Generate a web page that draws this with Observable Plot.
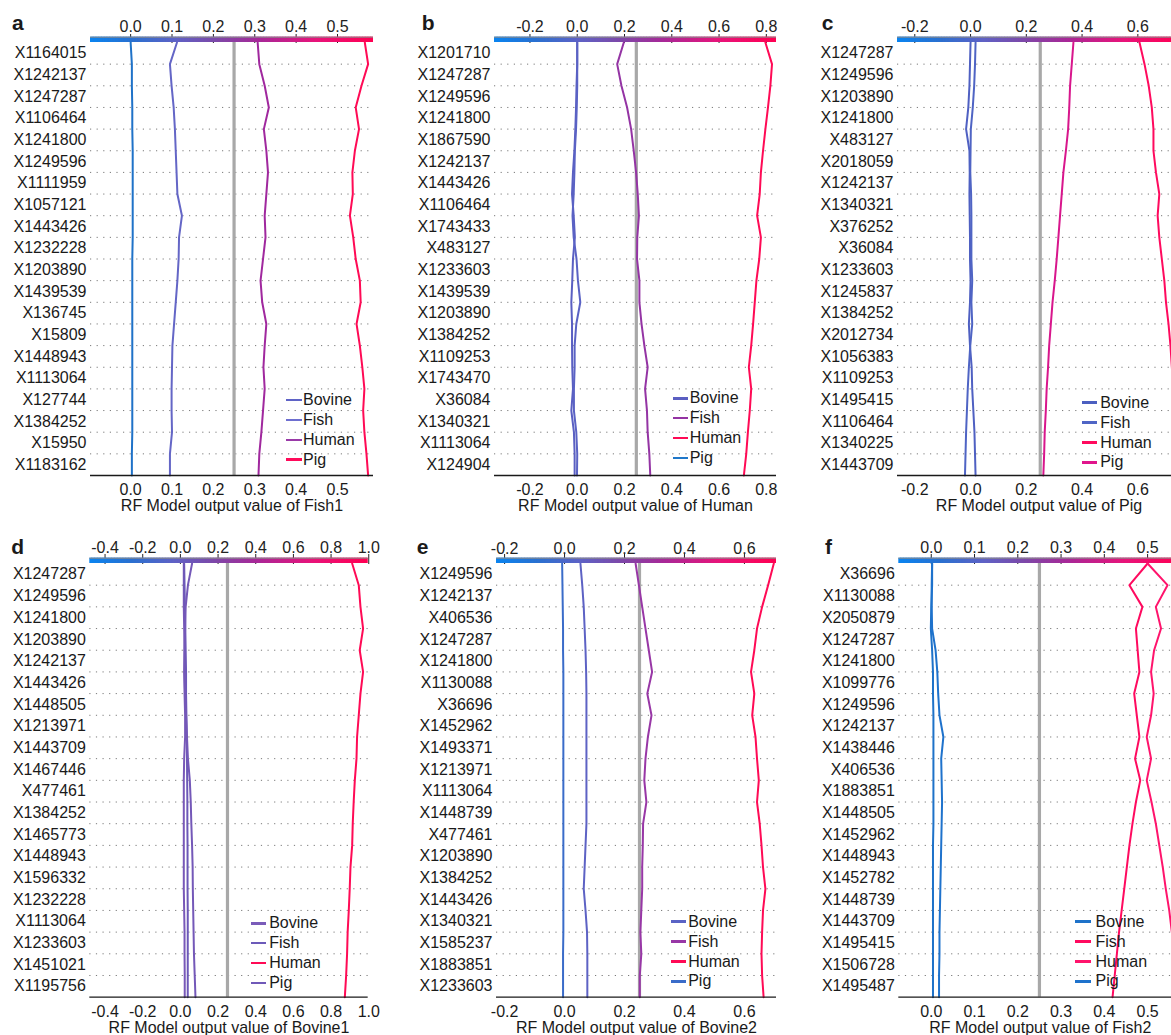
<!DOCTYPE html>
<html><head><meta charset="utf-8">
<script src="https://cdn.jsdelivr.net/npm/d3@7"></script>
<script src="https://cdn.jsdelivr.net/npm/@observablehq/plot@0.6"></script>
<style>
html,body{margin:0;padding:0;background:#fff;overflow:hidden;}
#fig{position:relative;width:1171px;height:1035px;overflow:hidden;font-family:"Liberation Sans",Arial,sans-serif;color:#1a1a1a;background:#fff;}
.panel{position:absolute;}
.panel svg{max-width:none !important;}
.letter{position:absolute;font-weight:bold;font-size:21px;line-height:1;}
.lrow{position:absolute;white-space:nowrap;display:flex;align-items:center;height:20px;font-size:16px;}
.sw{display:inline-block;width:15.5px;height:2.6px;}
</style></head><body><div id="fig"></div><script>
// ---------------- DATA ----------------
const seriesNames = ["Bovine", "Fish", "Human", "Pig"];
const baseValue = 0.25;

// Panel a: Fish1
const fish1Features = ["X1164015","X1242137","X1247287","X1106464","X1241800","X1249596","X1111959","X1057121","X1443426","X1232228","X1203890","X1439539","X136745","X15809","X1448943","X1113064","X127744","X1384252","X15950","X1183162"];
const fish1Bovine = [0.000,0.003,0.003,0.004,0.004,0.005,0.005,0.005,0.005,0.005,0.004,0.004,0.004,0.004,0.004,0.004,0.004,0.004,0.004,0.003,0.003];
const fish1Fish   = [0.112,0.095,0.099,0.104,0.107,0.109,0.111,0.113,0.124,0.117,0.116,0.113,0.109,0.105,0.101,0.100,0.099,0.099,0.100,0.095,0.095];
const fish1Human  = [0.307,0.311,0.324,0.334,0.322,0.328,0.332,0.328,0.324,0.326,0.320,0.314,0.318,0.328,0.324,0.321,0.324,0.320,0.316,0.311,0.309];
const fish1Pig    = [0.566,0.574,0.558,0.544,0.552,0.542,0.536,0.537,0.530,0.538,0.544,0.554,0.556,0.546,0.554,0.560,0.565,0.562,0.565,0.570,0.574];
const fish1Ticks  = [0.0,0.1,0.2,0.3,0.4,0.5];

// Panel b: Human
const humanFeatures = ["X1201710","X1247287","X1249596","X1241800","X1867590","X1242137","X1443426","X1106464","X1743433","X483127","X1233603","X1439539","X1203890","X1384252","X1109253","X1743470","X36084","X1340321","X1113064","X124904"];
const humanBovine = [0.000,0.000,-0.003,-0.005,-0.008,-0.012,-0.018,-0.022,-0.015,-0.010,-0.018,-0.021,-0.025,-0.022,-0.022,-0.021,-0.018,-0.025,-0.014,-0.011,-0.011];
const humanFish   = [0.197,0.169,0.187,0.211,0.228,0.239,0.249,0.256,0.261,0.254,0.253,0.263,0.263,0.272,0.284,0.298,0.287,0.295,0.298,0.305,0.309];
const humanHuman  = [0.796,0.824,0.817,0.807,0.796,0.786,0.777,0.772,0.761,0.777,0.770,0.758,0.751,0.744,0.736,0.726,0.736,0.730,0.722,0.715,0.705];
const humanPig    = [0.000,0.000,0.000,-0.002,-0.005,-0.010,-0.012,-0.015,-0.020,-0.015,-0.003,0.003,0.013,-0.004,-0.011,-0.011,-0.014,-0.014,-0.004,0.000,-0.001];
const humanTicks  = [-0.2,0.0,0.2,0.4,0.6,0.8];

// Panel c: Pig
const pigFeatures = ["X1247287","X1249596","X1203890","X1241800","X483127","X2018059","X1242137","X1340321","X376252","X36084","X1233603","X1245837","X1384252","X2012734","X1056383","X1109253","X1495415","X1106464","X1340225","X1443709"];
const pigBovine = [0.000,-0.002,-0.004,-0.008,-0.016,-0.004,-0.003,-0.004,-0.003,-0.002,-0.002,0.000,-0.002,-0.006,-0.002,0.004,0.006,0.010,0.014,0.016,0.018];
const pigFish   = [0.018,0.016,0.013,0.008,0.001,0.000,-0.001,0.002,0.003,0.003,0.003,0.006,0.003,0.006,-0.001,-0.006,-0.010,-0.013,-0.016,-0.018,-0.020];
const pigHuman  = [0.606,0.624,0.639,0.650,0.656,0.656,0.665,0.677,0.671,0.677,0.686,0.695,0.701,0.710,0.717,0.722,0.728,0.733,0.737,0.741,0.745];
const pigPig    = [0.369,0.363,0.357,0.354,0.350,0.342,0.333,0.327,0.321,0.315,0.309,0.302,0.294,0.288,0.282,0.278,0.273,0.270,0.266,0.264,0.261];
const pigTicks  = [-0.2,0.0,0.2,0.4,0.6];

// Panel d: Bovine1
const bovine1Features = ["X1247287","X1249596","X1241800","X1203890","X1242137","X1443426","X1448505","X1213971","X1443709","X1467446","X477461","X1384252","X1465773","X1448943","X1596332","X1232228","X1113064","X1233603","X1451021","X1195756"];
const bovine1Bovine = [0.018,0.018,0.018,0.020,0.022,0.020,0.022,0.025,0.025,0.020,0.018,0.018,0.018,0.018,0.018,0.018,0.020,0.022,0.022,0.023,0.023];
const bovine1Fish   = [0.020,0.022,0.024,0.026,0.028,0.030,0.030,0.032,0.034,0.035,0.036,0.037,0.037,0.038,0.038,0.038,0.039,0.039,0.039,0.039,0.039];
const bovine1Human  = [0.912,0.947,0.956,0.970,0.952,0.970,0.956,0.947,0.938,0.935,0.926,0.920,0.915,0.912,0.903,0.899,0.894,0.888,0.885,0.880,0.873];
const bovine1Pig    = [0.062,0.040,0.028,0.025,0.022,0.022,0.025,0.030,0.035,0.040,0.050,0.055,0.058,0.062,0.065,0.066,0.068,0.070,0.072,0.076,0.080];
const bovine1Ticks  = [-0.4,-0.2,0.0,0.2,0.4,0.6,0.8,1.0];

// Panel e: Bovine2
const bovine2Features = ["X1249596","X1242137","X406536","X1247287","X1241800","X1130088","X36696","X1452962","X1493371","X1213971","X1113064","X1448739","X477461","X1203890","X1384252","X1443426","X1340321","X1585237","X1883851","X1233603"];
const bovine2Bovine = [0.053,0.059,0.064,0.067,0.070,0.072,0.073,0.073,0.073,0.073,0.073,0.073,0.073,0.070,0.067,0.064,0.070,0.075,0.076,0.076,0.076];
const bovine2Fish   = [0.237,0.248,0.259,0.270,0.281,0.292,0.276,0.290,0.278,0.270,0.266,0.273,0.262,0.261,0.259,0.259,0.256,0.253,0.256,0.251,0.251];
const bovine2Human  = [0.698,0.679,0.659,0.642,0.633,0.622,0.633,0.626,0.637,0.642,0.648,0.642,0.651,0.657,0.662,0.670,0.662,0.659,0.657,0.659,0.664];
const bovine2Pig    = [-0.008,-0.007,-0.006,-0.005,-0.005,-0.004,-0.004,-0.004,-0.004,-0.004,-0.004,-0.004,-0.004,-0.004,-0.004,-0.004,-0.004,-0.004,-0.005,-0.005,-0.005];
const bovine2Ticks  = [-0.2,0.0,0.2,0.4,0.6];

// Panel f: Fish2
const fish2Features = ["X36696","X1130088","X2050879","X1247287","X1241800","X1099776","X1249596","X1242137","X1438446","X406536","X1883851","X1448505","X1452962","X1448943","X1452782","X1448739","X1443709","X1495415","X1506728","X1495487"];
const fish2Bovine = [0.002,0.002,0.000,-0.001,0.002,0.004,0.004,0.005,0.005,0.005,0.005,0.005,0.005,0.004,0.004,0.004,0.004,0.004,0.004,0.004,0.004];
const fish2Fish   = [0.500,0.458,0.488,0.473,0.477,0.481,0.469,0.475,0.481,0.471,0.483,0.473,0.465,0.458,0.452,0.446,0.440,0.434,0.429,0.424,0.419];
const fish2Human  = [0.500,0.546,0.519,0.531,0.515,0.508,0.514,0.508,0.498,0.508,0.498,0.509,0.519,0.527,0.535,0.542,0.550,0.556,0.563,0.570,0.577];
const fish2Pig    = [0.002,0.001,0.001,0.002,0.010,0.014,0.016,0.019,0.028,0.023,0.024,0.025,0.024,0.023,0.022,0.021,0.020,0.019,0.019,0.018,0.018];
const fish2Ticks  = [0.0,0.1,0.2,0.3,0.4,0.5];

// ---------------- LAYOUT / STYLE ----------------
const FONT = '"Liberation Sans", Arial, sans-serif';
const panels = [
  {letter:"a", title:"RF Model output value of Fish1",   features:fish1Features,   lines:[fish1Bovine,fish1Fish,fish1Human,fish1Pig],         ticks:fish1Ticks,   domain:[-0.097,0.587],
   col:0,   row:0, fl:90,    fw:283,
   strokes:["#1f72c8","#6466c6","#a0289e","#ff0a55"], legend:["#5f63c6","#6e6fd0","#9a3aa8","#ff0a5a"], lx:286,   ly:400,   gap:1.5, letX:12,    letY:29.3},
  {letter:"b", title:"RF Model output value of Human",   features:humanFeatures,   lines:[humanBovine,humanFish,humanHuman,humanPig],         ticks:humanTicks,   domain:[-0.350,0.843],
   col:400, row:0, fl:494,   fw:282,
   strokes:["#5a5fc2","#9434a4","#ff0a55","#5a62c4"], legend:["#5b5fc2","#9433a3","#ff0a55","#1f77c9"], lx:672.7, ly:398.3, gap:1.5, letX:421.7, letY:29.3},
  {letter:"c", title:"RF Model output value of Pig",     features:pigFeatures,     lines:[pigBovine,pigFish,pigHuman,pigPig],                 ticks:pigTicks,     domain:[-0.262,0.753],
   col:800, row:0, fl:897,   fw:283,
   strokes:["#4f60c2","#4f64c4","#ff0a5e","#d8168c"], legend:["#4c5fc0","#4f65c5","#ff0a5e","#e0158c"], lx:1081.7,ly:402.7, gap:3,   letX:821.7, letY:29.3},
  {letter:"d", title:"RF Model output value of Bovine1", features:bovine1Features, lines:[bovine1Bovine,bovine1Fish,bovine1Human,bovine1Pig], ticks:bovine1Ticks, domain:[-0.481,0.997],
   col:0,   row:1, fl:89.3,  fw:278.4,
   strokes:["#7858b8","#6c58b8","#ff0a55","#7458b8"], legend:["#7a5cb9","#6c5ab9","#ff0a55","#7059b8"], lx:250.7, ly:923.3, gap:3,   letX:11.3,  letY:553},
  {letter:"e", title:"RF Model output value of Bovine2", features:bovine2Features, lines:[bovine2Bovine,bovine2Fish,bovine2Human,bovine2Pig], ticks:bovine2Ticks, domain:[-0.227,0.707],
   col:400, row:1, fl:496,   fw:280,
   strokes:["#5d62c4","#9837a6","#ff0a55","#3a6cc9"], legend:["#5a63c5","#9837a6","#ff0a55","#3a6cc9"], lx:670.7, ly:921.7, gap:2,   letX:416.7, letY:553.3},
  {letter:"f", title:"RF Model output value of Fish2",   features:fish2Features,   lines:[fish2Bovine,fish2Fish,fish2Human,fish2Pig],         ticks:fish2Ticks,   domain:[-0.075,0.579],
   col:800, row:1, fl:898.3, fw:283,
   strokes:["#1e72c9","#ff0a5f","#ff146c","#1e72cc"], legend:["#1e72c9","#ff0a5f","#ff146c","#1e72cc"], lx:1075,  ly:921.7, gap:5,   letX:825,   letY:553}
];
const rows = [
  {top:0,   h:520, mt:42, mb:45,   ts:9,  tp:2, lo:35},
  {top:520, h:515, mt:43, mb:38.3, ts:10, tp:0, lo:36}
];

// colour bar ramp (blue -> purple -> red)
const rampStops = [[0,"#0a84f0"],[0.15,"#2a70d0"],[0.3,"#5e62c6"],[0.45,"#7e48a8"],[0.6,"#a82898"],[0.8,"#e8147a"],[1,"#ff0052"]];
const ramp = d3.scaleLinear().domain(rampStops.map(d => d[0])).range(rampStops.map(d => d[1])).interpolate(d3.interpolateRgb).clamp(true);
const fmt = d => (Math.abs(d) < 1e-9 ? 0 : d).toFixed(1);

const fig = document.getElementById("fig");
for (const p of panels) {
  const R = rows[p.row];
  const [x0, x1] = p.domain;
  const ml = p.fl - p.col, mr = 20;
  const W = ml + p.fw + mr;
  const pts = p.lines.flatMap((vals, j) => vals.map((v, i) => ({name: seriesNames[j], x: v, y: 20 - i, color: p.strokes[j]})));
  const N = 180;
  const bar = d3.range(N).map(k => ({a: x0 + (x1 - x0) * k / N, b: Math.min(x1, x0 + (x1 - x0) * (k + 1.7) / N), c: ramp((k + 0.5) / N)}));
  const unit = (R.h - R.mt - R.mb) / 20;
  const barTop = 20 + 5.3 / unit;
  const chart = Plot.plot({
    width: W, height: R.h,
    marginLeft: ml, marginRight: mr, marginTop: R.mt, marginBottom: R.mb,
    style: {fontFamily: FONT, fontSize: "16px", color: "#1a1a1a", background: "transparent", overflow: "visible", maxWidth: "none"},
    x: {domain: p.domain},
    y: {domain: [0, 20]},
    color: {type: "identity"},
    marks: [
      Plot.ruleY(d3.range(1, 20), {y: d => d, stroke: "#7a7a7a", strokeDasharray: "1.2,5.4", strokeWidth: 1}),
      Plot.ruleX([baseValue], {x: d => d, y1: () => 0, y2: () => 20, stroke: "#a8a8a8", strokeWidth: 3.2}),
      Plot.axisX({anchor: "top", ticks: p.ticks, tickFormat: fmt, tickSize: R.ts, tickPadding: R.tp, label: null, color: "#222"}),
      Plot.rect(bar, {x1: "a", x2: "b", y1: () => 20, y2: () => barTop, fill: "c"}),
      Plot.ruleY([barTop], {y: d => d, stroke: "#8a8a8a", strokeWidth: 1}),
      Plot.line(pts, {x: "x", y: "y", z: "name", stroke: "color", strokeWidth: 2}),
      Plot.ruleY([0], {y: d => d, stroke: "#1a1a1a", strokeWidth: 1.3}),
      Plot.axisX({anchor: "bottom", ticks: p.ticks, tickFormat: fmt, tickSize: 0, tickPadding: 8,
                  label: p.title, labelAnchor: "center", labelArrow: "none", labelOffset: R.lo, color: "#1a1a1a"}),
      Plot.axisY({ticks: d3.range(20).map(k => k + 0.5), tickFormat: d => p.features[19 - Math.floor(d)],
                  tickSize: 0, tickPadding: 4, label: null, color: "#1a1a1a"})
    ]
  });
  chart.style.maxWidth = "none";
  const wrap = document.createElement("div");
  wrap.className = "panel";
  wrap.style.left = p.col + "px";
  wrap.style.top = R.top + "px";
  wrap.style.width = W + "px";
  wrap.style.height = R.h + "px";
  wrap.appendChild(chart);
  fig.appendChild(wrap);

  const L = document.createElement("div");
  L.className = "letter";
  L.textContent = p.letter;
  L.style.left = p.letX + "px";
  L.style.top = (p.letY - 17.5) + "px";
  fig.appendChild(L);

  seriesNames.forEach((nm, k) => {
    const r = document.createElement("div");
    r.className = "lrow";
    r.style.left = p.lx + "px";
    r.style.top = (p.ly + k * 19.9 - 10) + "px";
    const sw = document.createElement("span");
    sw.className = "sw";
    sw.style.background = p.legend[k];
    sw.style.marginRight = p.gap + "px";
    r.appendChild(sw);
    r.appendChild(document.createTextNode(nm));
    fig.appendChild(r);
  });
}
</script></body></html>
